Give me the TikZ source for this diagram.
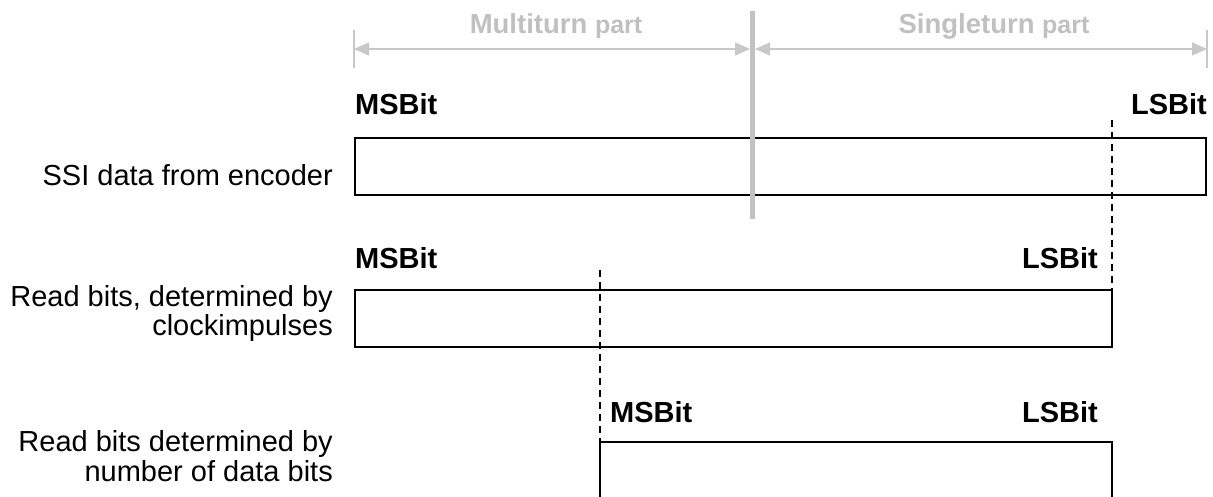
\documentclass[tikz,border=0pt]{standalone}
\usepackage{fontspec}
\setmainfont{Liberation Sans}
\usetikzlibrary{arrows.meta}
\definecolor{sepgray}{HTML}{C2C2C2}
\definecolor{dimgray}{HTML}{C8C8C8}
\definecolor{hdrgray}{HTML}{C0C0C0}
\begin{document}
\begin{tikzpicture}[x=1pt,y=-1pt,
  boxn/.style={draw=black,line width=1.8pt,inner sep=0pt,outer sep=0pt,rectangle},
  boxline/.style={draw=black,line width=1.8pt},
  bitlbl/.style={font=\fontsize{29}{34}\selectfont\bfseries,inner sep=0pt,text=black},
  rowlbl/.style={font=\fontsize{29}{30}\selectfont,inner sep=0pt,text=black},
  hdr/.style={font=\fontsize{27.5}{30}\selectfont\bfseries,inner sep=0pt,text=hdrgray},
  guide/.style={draw=black,line width=1.5pt,dash pattern=on 7pt off 5pt},
  dimline/.style={draw=dimgray,line width=1.5pt},
  dimtip/.style={dimline,{Triangle[length=15pt,width=13pt,fill=dimgray]}-{Triangle[length=15pt,width=13pt,fill=dimgray]}},
  sepline/.style={draw=sepgray,line width=5pt}]
\useasboundingbox (0,0) rectangle (1213,497);

% header dimension lines
\coordinate (tl1) at (354,30); \coordinate (tl2) at (354,68);
\coordinate (tr1) at (1207,30); \coordinate (tr2) at (1207,68);
\draw[dimline] (tl1) -- (tl2);
\draw[dimline] (tr1) -- (tr2);
\coordinate (ml) at (354,49); \coordinate (mr) at (750,49);
\coordinate (sl) at (755,49); \coordinate (sr) at (1207,49);
\draw[dimtip] (ml) -- (mr);
\draw[dimtip] (sl) -- (sr);
\node[hdr,anchor=base] (mt) at (556,34) {Multiturn {\fontsize{25}{26}\selectfont part}};
\node[hdr,anchor=base] (st) at (994,34) {Singleturn {\fontsize{25}{26}\selectfont part}};

% row 1
\node[boxn,minimum width=851pt,minimum height=57pt,anchor=north west] (b1) at (355,138) {};
\node[bitlbl,anchor=base west] (msb1) at (355,115) {MSBit};
\node[bitlbl,anchor=base east] (lsb1) at (1207,115) {LSBit};
\node[rowlbl,anchor=base east] (r1) at (333,186) {SSI data from encoder};

% separator
\coordinate (septop) at (752,11); \coordinate (sepbot) at (752,219);
\draw[sepline] (septop) -- (sepbot);

% row 2
\node[boxn,minimum width=757pt,minimum height=57pt,anchor=north west] (b2) at (355,290) {};
\node[bitlbl,anchor=base west] (msb2) at (355,269) {MSBit};
\node[bitlbl,anchor=base east] (lsb2) at (1098,269) {LSBit};
\node[rowlbl,anchor=base east] (r2a) at (333,306) {Read bits, determined by};
\node[rowlbl,anchor=base east] (r2b) at (333,335) {clockimpulses};

% row 3 (open at the bottom)
\coordinate (b3sw) at (600,500); \coordinate (b3nw) at (600,442);
\coordinate (b3ne) at (1112,442); \coordinate (b3se) at (1112,500);
\draw[boxline] (b3sw) -- (b3nw) -- (b3ne) -- (b3se);
\node[bitlbl,anchor=base west] (msb3) at (610,422) {MSBit};
\node[bitlbl,anchor=base east] (lsb3) at (1098,422) {LSBit};
\node[rowlbl,anchor=base east] (r3a) at (333,451) {Read bits determined by};
\node[rowlbl,anchor=base east] (r3b) at (333,481) {number of data bits};

% dashed guides
\coordinate (g1top) at (1112,120);
\draw[guide] (g1top) -- (b2.north east);
\coordinate (g2top) at (600,270);
\draw[guide] (g2top) -- (b3nw);
\end{tikzpicture}
\end{document}
